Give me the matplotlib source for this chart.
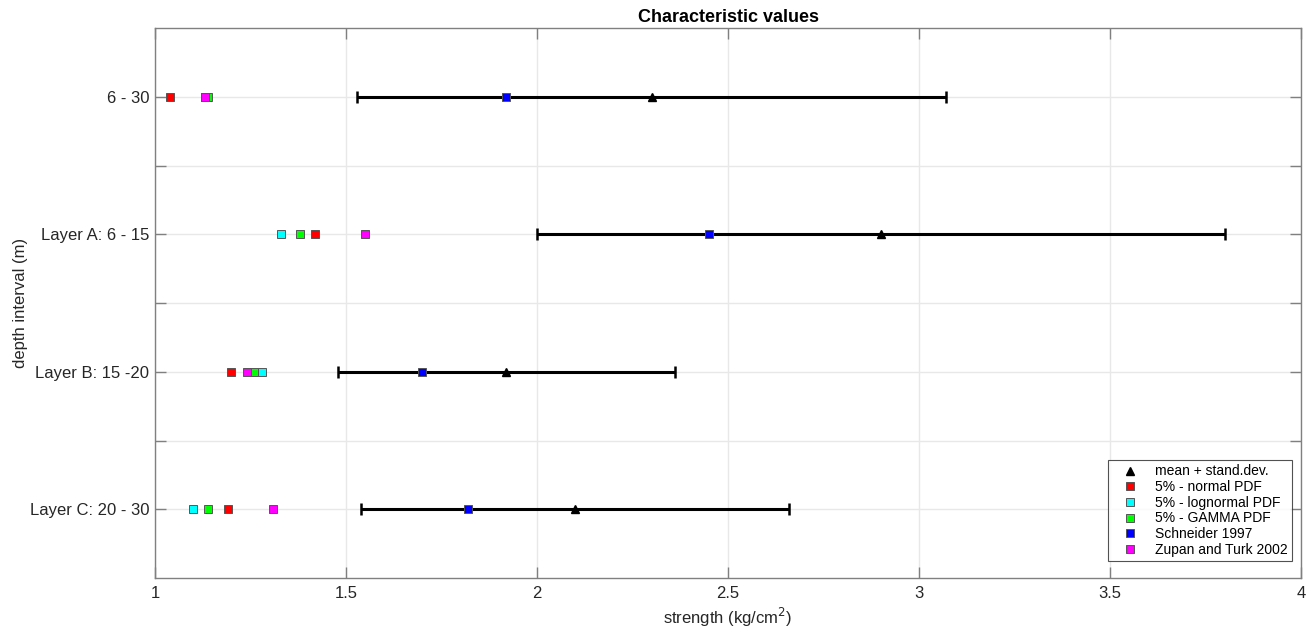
import matplotlib
matplotlib.use("Agg")
import matplotlib.pyplot as plt
import numpy as np

plt.rcParams["font.family"] = ["Liberation Sans", "DejaVu Sans"]

# depth intervals, bottom to top on the y axis
LAYERS = ["Layer C: 20 - 30", "Layer B: 15 -20", "Layer A: 6 - 15", "6 - 30"]

mean_val   = [2.10, 1.92, 2.90, 2.30]
std_val    = [0.56, 0.44, 0.90, 0.77]
normal5    = [1.19, 1.20, 1.42, 1.04]
lognormal5 = [1.10, 1.28, 1.33, 1.13]
gamma5     = [1.14, 1.26, 1.38, 1.14]
schneider  = [1.82, 1.70, 2.45, 1.92]
zupan      = [1.31, 1.24, 1.55, 1.13]

GRAY = "#262626"

fig = plt.figure(figsize=(13.16, 6.27), dpi=100)
ax = fig.add_axes([155 / 1316, 1 - 578 / 627, 1146 / 1316, 550 / 627])

y = np.arange(1, len(LAYERS) + 1)

ax.errorbar(mean_val, y, xerr=std_val, fmt="none", ecolor="black",
            elinewidth=2.2, capsize=4, capthick=1.8, zorder=3)

sq = dict(marker="s", linestyle="none", markersize=5.2,
          markeredgecolor="#555555", markeredgewidth=0.7, zorder=4)
ax.plot(normal5, y, markerfacecolor="#ff0000", label="5% - normal PDF", **sq)
ax.plot(lognormal5, y, markerfacecolor="#00ffff", label="5% - lognormal PDF", **sq)
ax.plot(gamma5, y, markerfacecolor="#00ff00", label="5% - GAMMA PDF", **sq)
ax.plot(schneider, y, markerfacecolor="#0000ff", label="Schneider 1997", **sq)
ax.plot(zupan, y, markerfacecolor="#ff00ff", label="Zupan and Turk 2002", **sq)
ax.plot(mean_val, y, marker="^", linestyle="none", color="black",
        markersize=6, zorder=5, label="mean + stand.dev.")

ax.set_xlim(1, 4)
ax.set_ylim(0.5, 4.5)
ax.set_xticks(np.arange(1, 4.01, 0.5))
ax.set_xticklabels(["1", "1.5", "2", "2.5", "3", "3.5", "4"])
ax.set_yticks(np.arange(1, 4.01, 0.5))
ylabels = []
for t in np.arange(1, 4.01, 0.5):
    ylabels.append(LAYERS[int(t) - 1] if t == int(t) else "")
ax.set_yticklabels(ylabels)

ax.grid(True, color="#e8e8e8", linewidth=1.0, zorder=0)
ax.set_axisbelow(True)
ax.tick_params(direction="in", length=8, width=1.0, color="#808080",
               labelsize=12, labelcolor=GRAY, top=True, right=True)
ax.tick_params(axis="x", pad=6)
ax.tick_params(axis="y", pad=4)
for s in ax.spines.values():
    s.set_color("#808080")
    s.set_linewidth(1.0)

ax.set_xlabel("strength (kg/cm$^2$)", fontsize=12, color=GRAY, labelpad=3)
ax.set_ylabel("depth interval (m)", fontsize=12, color=GRAY)
ax.yaxis.set_label_coords(-0.111, 0.5)
ax.set_title("Characteristic values", fontsize=13, fontweight="bold",
             color="black", pad=4)

h, l = ax.get_legend_handles_labels()
order = [5, 0, 1, 2, 3, 4]
leg = ax.legend([h[i] for i in order], [l[i] for i in order],
                loc="lower right", bbox_to_anchor=(0.9921, 0.031),
                fontsize=10, frameon=True, fancybox=False,
                handlelength=2.6, handletextpad=0.5, borderpad=0.3,
                labelspacing=0.12, markerscale=1.0, borderaxespad=0)
leg.get_frame().set_edgecolor("#262626")
leg.get_frame().set_linewidth(0.8)

fig.savefig("out.png", dpi=100)
